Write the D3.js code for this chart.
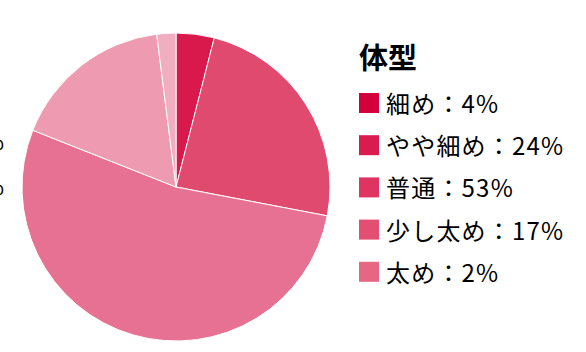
<!DOCTYPE html>
<html>
<head>
<meta charset="utf-8">
<script src="https://cdn.jsdelivr.net/npm/d3@7"></script>
<style>
  body { margin: 0; background: #fff; }
  text { font-family: "Noto Sans CJK JP", "Noto Sans", sans-serif; }
</style>
</head>
<body>
<div id="chart"></div>
<script>
const title = "体型";
const categories = ["細め", "やや細め", "普通", "少し太め", "太め"];
const values = [4, 24, 53, 17, 2];
const legendColors = ["#d4003c", "#da1b50", "#df3461", "#e34f72", "#e76684"];
const sliceColors = ["#d9194c", "#e04a6f", "#e77192", "#ee9ab0", "#f1aec0"];
// labels that sit off the left edge of the frame
const offLabels = ["53%", "17%"];

const width = 586,
  height = 352;

const svg = d3.select("#chart")
  .append("svg")
  .attr("width", width)
  .attr("height", height);

const cx = 176, cy = 187, radius = 154;

const pie = d3.pie().sort(null).value(d => d);
const arc = d3.arc().innerRadius(0).outerRadius(radius);

svg.append("g")
  .attr("transform", `translate(${cx},${cy})`)
  .selectAll("path")
  .data(pie(values))
  .join("path")
  .attr("d", arc)
  .attr("fill", (d, i) => sliceColors[i])
  .attr("stroke", "#fff")
  .attr("stroke-width", 1);

svg.append("g")
  .selectAll("text")
  .data(offLabels)
  .join("text")
  .attr("x", 4)
  .attr("y", (d, i) => 150 + i * 45)
  .attr("text-anchor", "end")
  .attr("font-size", 22)
  .attr("fill", "#000")
  .text(d => d);

// legend
const legend = svg.append("g").attr("transform", "translate(358,0)");

legend.append("text")
  .attr("x", 1)
  .attr("y", 69)
  .attr("font-size", 29)
  .attr("font-weight", "bold")
  .attr("fill", "#000")
  .text(title);

const row = legend.selectAll("g.item")
  .data(categories)
  .join("g")
  .attr("class", "item")
  .attr("transform", (d, i) => `translate(0,${93 + i * 42.2})`);

row.append("rect")
  .attr("x", 1)
  .attr("width", 20)
  .attr("height", 20)
  .attr("fill", (d, i) => legendColors[i]);

row.append("text")
  .attr("x", 28)
  .attr("y", 20)
  .attr("font-size", 24)
  .attr("letter-spacing", 1.2)
  .attr("fill", "#000")
  .text((d, i) => `${d}：${values[i]}%`);
</script>
</body>
</html>
